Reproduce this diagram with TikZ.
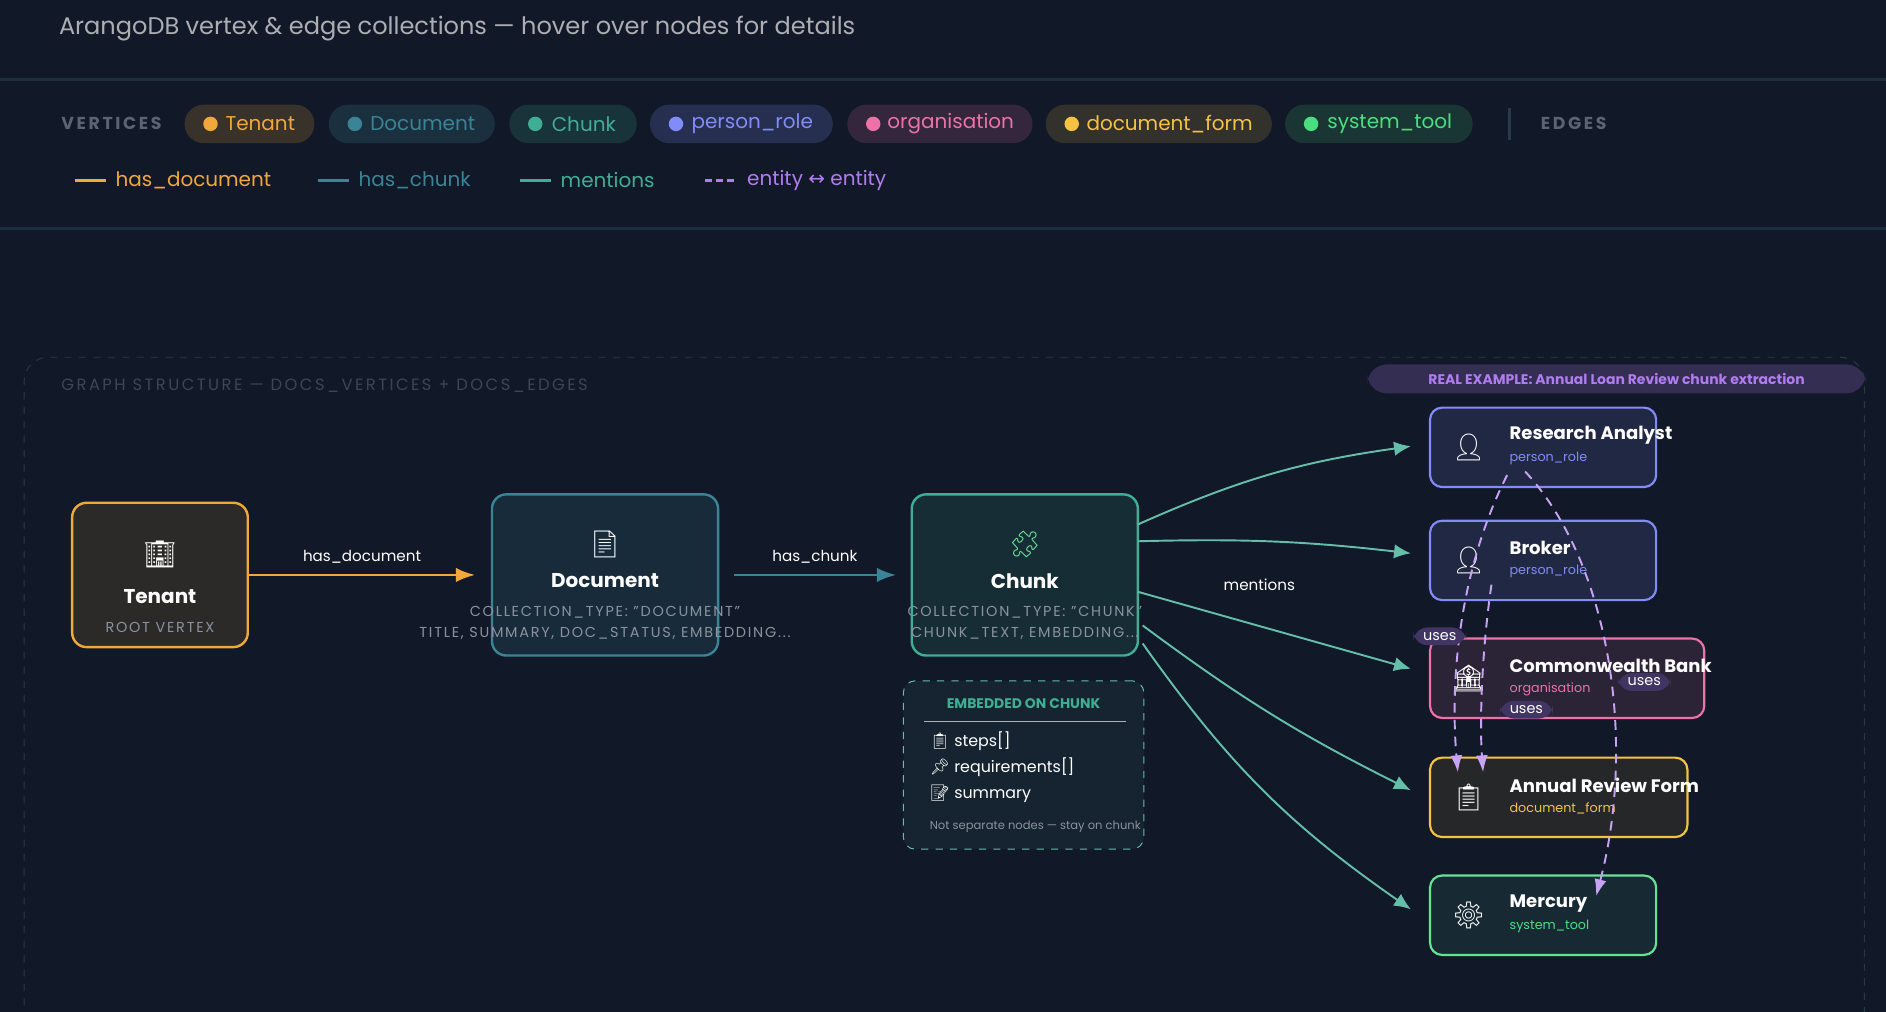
\documentclass[tikz,border=0pt]{standalone}
\usepackage{fontspec}
\setmainfont{Poppins}
\newfontfamily\emoji{Noto Emoji}
\newfontfamily\djv{DejaVu Sans}
\usetikzlibrary{arrows.meta,positioning}
\definecolor{bg}{HTML}{111827}
\definecolor{rule}{HTML}{1C2E3C}
\definecolor{rulehi}{HTML}{28394A}
\definecolor{ora}{HTML}{F0A83A}
\definecolor{doc}{HTML}{3A8496}
\definecolor{chk}{HTML}{3FAE94}
\definecolor{per}{HTML}{818CF8}
\definecolor{org}{HTML}{EC72A8}
\definecolor{frm}{HTML}{F5C242}
\definecolor{sys}{HTML}{4ADE80}
\definecolor{lav}{HTML}{B07CF0}
\definecolor{mut}{HTML}{5A6472}
\definecolor{lgt}{HTML}{8A929E}
\tikzset{
    pill/.style =   {rectangle,
                    rounded corners=8pt,
                    minimum height=16pt,
                    inner xsep=6pt,
                    font=\fontsize{8.3}{10}\selectfont},
    vertex/.style = {rectangle,
                    rounded corners=6pt,
                    line width=1pt,
                    minimum width=94pt,
                    minimum height=67pt},
    entity/.style = {rectangle,
                    rounded corners=5pt,
                    line width=0.9pt,
                    minimum height=33pt,
                    anchor=north west},
    tag/.style =    {font=\fontsize{5.3}{6}\selectfont, anchor=west},
    big/.style =    {font=\bfseries\fontsize{8.3}{10}\selectfont, text=white},
    meta/.style =   {font=\fontsize{6}{7}\selectfont\addfontfeatures{LetterSpace=12}, text=lgt},
    uses/.style =   {rectangle, rounded corners=6pt, fill=lav!30!bg, text=white!70,
                    font=\fontsize{6}{7}\selectfont, inner sep=2pt, minimum width=22pt},
    mention/.style ={draw=chk!80, line width=0.8pt, -{Latex[length=7pt,width=6pt]}},
    rel/.style =    {draw=lav!70, line width=0.8pt, dash pattern=on 4pt off 3pt,
                    -{Latex[length=7pt,width=5pt]}},
    icon/.style =   {font=\emoji\fontsize{11}{12}\selectfont},
    dot/.style =    {circle, fill=#1, inner sep=0pt, minimum size=6pt}
}
\begin{document}
\begin{tikzpicture}[x=0.5pt,y=-0.5pt]
    \fill[bg] (0,0) rectangle (1568,841);
    \useasboundingbox (0,0) rectangle (1568,841);
    % header
    \node[anchor=west, text=white!65!bg, font=\fontsize{10}{12}\selectfont] (title) at (42,24)
        {ArangoDB vertex \& edge collections — hover over nodes for details};
    \draw[rule, line width=1pt] (0,66) -- (1568,66);
    \draw[rule, line width=1pt] (0,190) -- (1568,190);
    % vertex legend
    \node[anchor=west, text=mut, font=\bfseries\fontsize{7.2}{9}\selectfont\addfontfeatures{LetterSpace=15}] (vlab) at (44,103) {VERTICES};
    \foreach \nm/\c/\x/\w/\t/\f in {lt/ora/153/54/Tenant/18, ld/doc/273/69/Document/22, lc/chk/423/53/Chunk/18,
                                    lp/per/540/76/person\_role/20, lo/org/704/77/organisation/16,
                                    lf/frm/869/94/document\_form/15, ls/sys/1068/78/system\_tool/15}{
        \node[pill, fill=\c!\f!bg, text=\c, anchor=west, minimum width=\w pt] (\nm) at (\x,103) {\hspace{9pt}\t};
        \node[dot=\c] at ([xshift=11pt]\nm.west) {};
    }
    \draw[rulehi, line width=1pt] (1255,90) -- (1255,116);
    \node[anchor=west, text=mut, font=\bfseries\fontsize{7.2}{9}\selectfont\addfontfeatures{LetterSpace=15}] (elab) at (1274,103) {EDGES};
    % edge legend
    \coordinate (e1) at (62,150); \coordinate (e2) at (264,150);
    \coordinate (e3) at (432,150); \coordinate (e4) at (586,150);
    \draw[ora, line width=1.5pt] (e1) -- ++(26,0) node[right, font=\fontsize{8.3}{10}\selectfont] (ehd) {has\_document};
    \draw[doc, line width=1.5pt] (e2) -- ++(26,0) node[right, font=\fontsize{8.3}{10}\selectfont] (ehc) {has\_chunk};
    \draw[chk, line width=1.5pt] (e3) -- ++(26,0) node[right, font=\fontsize{8.3}{10}\selectfont] (emn) {mentions};
    \draw[lav, line width=1.5pt, dash pattern=on 3pt off 1.5pt] (e4) -- ++(27,0) node[right, font=\fontsize{8.3}{10}\selectfont] (eee) {entity {\djv ↔} entity};
    % graph frame
    \draw[rulehi, dashed, rounded corners=10pt] (20,860) -- (20,297) -- (1550,297) -- (1550,860);
    \node[anchor=west, text=mut!60!bg, font=\fontsize{6.8}{8}\selectfont\addfontfeatures{LetterSpace=15}] (glab) at (44,321)
        {GRAPH STRUCTURE — DOCS\_VERTICES + DOCS\_EDGES};
    \node[pill, fill=lav!22!bg, text=lav, font=\bfseries\fontsize{5.8}{7}\selectfont, minimum width=207pt, minimum height=12pt] (real) at (1344,315)
        {REAL EXAMPLE: Annual Loan Review chunk extraction};
    % main vertices
    \node[vertex, draw=ora, fill=ora!12!bg, minimum width=73pt, minimum height=60pt] (tenant) at (133,478) {};
    \node[icon, text=white!60] at (133,461) {🏢};
    \node[big] at (133,496) {Tenant};
    \node[meta] at (133,522) {ROOT VERTEX};
    \node[vertex, draw=doc, fill=doc!18!bg] (document) at (503,478) {};
    \node[icon, text=white!85] at (503,453) {📄};
    \node[big] at (503,483) {Document};
    \node[meta] at (503,509) {COLLECTION\_TYPE: "DOCUMENT"};
    \node[meta] at (503,527) {TITLE, SUMMARY, DOC\_STATUS, EMBEDDING...};
    \node[vertex, draw=chk, fill=chk!14!bg] (chunk) at (852,478) {};
    \node[icon, text=sys!80] at (852,453) {🧩};
    \node[big] at (852,483) {Chunk};
    \node[meta] at (852,509) {COLLECTION\_TYPE: "CHUNK"};
    \node[meta] at (852,527) {CHUNK\_TEXT, EMBEDDING...};
    \draw[ora, line width=1pt, -{Latex[length=8pt,width=6pt]}] (tenant.east) -- (395,478)
        node[midway, above=1pt, text=white!75, font=\fontsize{6.3}{7}\selectfont] (lhd) {has\_document};
    \draw[doc, line width=1pt, -{Latex[length=8pt,width=6pt]}] (610,478) -- (745,478)
        node[midway, above=1pt, text=white!75, font=\fontsize{6.3}{7}\selectfont] (lhc) {has\_chunk};
    % embedded box
    \node[draw=chk!80, dashed, fill=chk!8!bg, rounded corners=5pt, minimum width=100pt, minimum height=70pt] (embed) at (851,636) {};
    \node[text=chk, font=\bfseries\fontsize{5.8}{7}\selectfont] at (851,585) {EMBEDDED ON CHUNK};
    \draw[mut!50, line width=0.3pt] (768,600) -- (936,600);
    \node[anchor=west, text=white!80, font=\fontsize{6.6}{8}\selectfont] at (766,616) {{\emoji 📋} steps[]};
    \node[anchor=west, text=white!80, font=\fontsize{6.6}{8}\selectfont] at (766,638) {{\emoji 📌} requirements[]};
    \node[anchor=west, text=white!80, font=\fontsize{6.6}{8}\selectfont] at (766,660) {{\emoji 📝} summary};
    \node[anchor=west, text=lgt, font=\fontsize{4.8}{6}\selectfont] at (766,687) {Not separate nodes — stay on chunk};
    % entities
    \node[entity, draw=per, fill=per!14!bg, minimum width=94pt] (analyst) at (1188,338) {};
    \node[entity, draw=per, fill=per!14!bg, minimum width=94pt] (broker) at (1188,432) {};
    \node[entity, draw=org, fill=org!12!bg, minimum width=114pt] (bank) at (1188,530) {};
    \node[entity, draw=frm, fill=frm!9!bg, minimum width=107pt] (form) at (1188,629) {};
    \node[entity, draw=sys!85, fill=chk!12!bg, minimum width=94pt] (mercury) at (1188,727) {};
    \foreach \n/\t/\s/\c/\i in {analyst/Research Analyst/person\_role/per/👤,
                                broker/Broker/person\_role/per/👤,
                                bank/Commonwealth Bank/organisation/org/🏦,
                                form/Annual Review Form/document\_form/frm/📋,
                                mercury/Mercury/system\_tool/sys/⚙}{
        \node[icon, text=white!60] at ([xshift=16.5pt]\n.west) {\i};
        \node[big, anchor=west, font=\bfseries\fontsize{7.5}{9}\selectfont] at ([xshift=30pt,yshift=5pt]\n.west) {\t};
        \node[tag, text=\c] at ([xshift=30pt,yshift=-4.5pt]\n.west) {\s};
    }
    % mentions
    \draw[mention] (946,436) to[bend left=8] (1173,371);
    \draw[mention] (946,450) to[bend left=4] (1173,460);
    \draw[mention] (946,492) -- (1173,556);
    \draw[mention] (950,520) to[bend right=5] (1173,657);
    \draw[mention] (950,535) to[bend right=10] (1173,756);
    \node[text=white!75, font=\fontsize{6.3}{7}\selectfont] (lmn) at (1047,486) {mentions};
    % uses
    \draw[rel] (1253,395) .. controls (1215,470) and (1205,560) .. (1212,642);
    \draw[rel] (1240,486) .. controls (1232,540) and (1230,600) .. (1233,642);
    \draw[rel] (1268,392) .. controls (1340,470) and (1360,620) .. (1327,745);
    \node[uses] (u1) at (1197,529) {uses};
    \node[uses] (u2) at (1367,567) {uses};
    \node[uses] (u3) at (1269,590) {uses};
\end{tikzpicture}
\end{document}
